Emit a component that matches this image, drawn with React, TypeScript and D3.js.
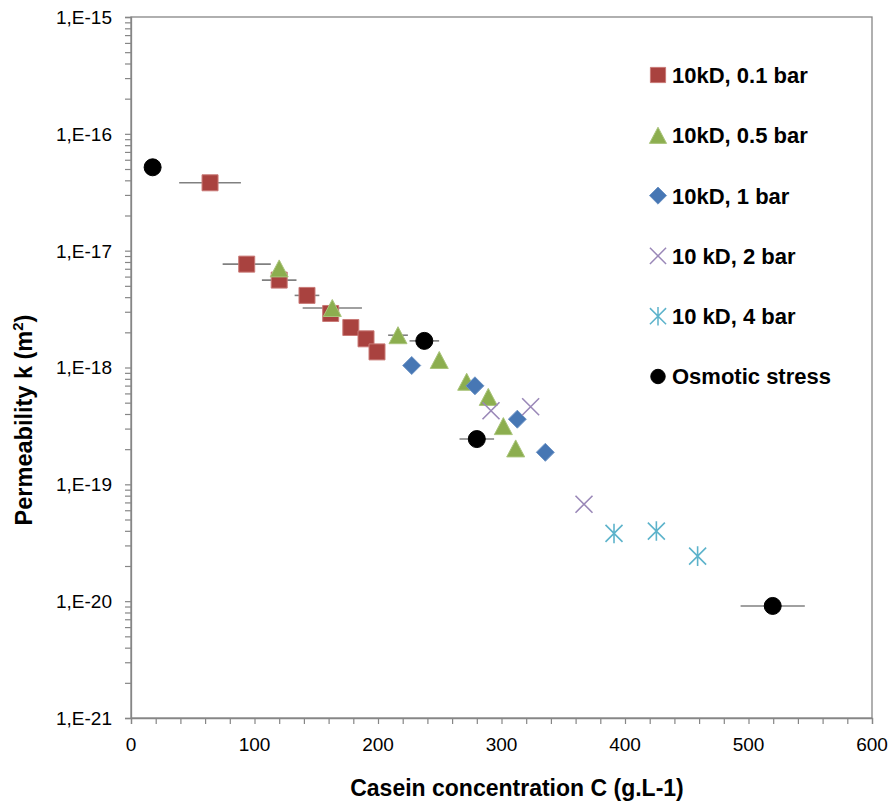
import React, { useEffect, useRef } from 'react';
import * as d3 from 'd3';

// Series data: casein concentration (g/L), permeability (m2), half-width of x error bar
const sq01X = [64, 93.7, 120, 142.5, 161.7, 178, 190.3, 199.2];
const sq01Y = [3.81e-17, 7.67e-18, 5.6e-18, 4.14e-18, 2.9e-18, 2.2e-18, 1.76e-18, 1.36e-18];
const sq01Err = [25, 19.5, 14, 10, 0, 0, 0, 0];

const tri05X = [120, 163, 216.2, 249.6, 271.8, 289.3, 301.5, 311.5];
const tri05Y = [7.05e-18, 3.23e-18, 1.89e-18, 1.16e-18, 7.55e-19, 5.6e-19, 3.15e-19, 2.03e-19];
const tri05Err = [0, 24, 8, 0, 0, 0, 0, 0];

const dia1X = [227.3, 278.5, 312.8, 335.5];
const dia1Y = [1.04e-18, 6.97e-19, 3.61e-19, 1.88e-19];

const x2X = [291.5, 323.6, 366.8];
const x2Y = [4.26e-19, 4.61e-19, 6.76e-20];

const ast4X = [391.1, 425.4, 458.8];
const ast4Y = [3.8e-20, 3.98e-20, 2.43e-20];

const osmX = [17.5, 237.5, 280, 519.6];
const osmY = [5.17e-17, 1.69e-18, 2.44e-19, 9.1e-21];
const osmErr = [0, 12, 14, 26];

const legendLabels = ['10kD, 0.1 bar', '10kD, 0.5 bar', '10kD, 1 bar', '10 kD, 2 bar', '10 kD, 4 bar', 'Osmotic stress'];
const xTicks = [0, 100, 200, 300, 400, 500, 600];
const yDecades = [-21, -20, -19, -18, -17, -16, -15];

type Shape = 'square' | 'triangle' | 'diamond' | 'x' | 'asterisk' | 'circle';

interface Series {
  label: string;
  shape: Shape;
  fill: string;
  stroke: string;
  xs: number[];
  ys: number[];
  errs?: number[];
}

const series: Series[] = [
  { label: legendLabels[0], shape: 'square', fill: '#A9423F', stroke: '#C97A77', xs: sq01X, ys: sq01Y, errs: sq01Err },
  { label: legendLabels[1], shape: 'triangle', fill: '#8CAE4F', stroke: '#A9C47A', xs: tri05X, ys: tri05Y, errs: tri05Err },
  { label: legendLabels[2], shape: 'diamond', fill: '#4777B4', stroke: '#6F95C6', xs: dia1X, ys: dia1Y },
  { label: legendLabels[3], shape: 'x', fill: 'none', stroke: '#9A88B8', xs: x2X, ys: x2Y },
  { label: legendLabels[4], shape: 'asterisk', fill: 'none', stroke: '#5DB3CB', xs: ast4X, ys: ast4Y },
  { label: legendLabels[5], shape: 'circle', fill: '#000000', stroke: '#000000', xs: osmX, ys: osmY, errs: osmErr },
];

function markerPath(shape: Shape, scale = 1): string {
  const p = d3.path();
  switch (shape) {
    case 'square':
      return d3.symbol(d3.symbolSquare, 256 * scale * scale)()!;
    case 'triangle': {
      const w = 18 * scale, h = 17 * scale;
      p.moveTo(0, -h / 2); p.lineTo(w / 2, h / 2); p.lineTo(-w / 2, h / 2); p.closePath();
      return p.toString();
    }
    case 'diamond': {
      const r = 9 * scale;
      p.moveTo(0, -r); p.lineTo(r, 0); p.lineTo(0, r); p.lineTo(-r, 0); p.closePath();
      return p.toString();
    }
    case 'x': {
      const r = 8.5 * scale;
      p.moveTo(-r, -r); p.lineTo(r, r); p.moveTo(-r, r); p.lineTo(r, -r);
      return p.toString();
    }
    case 'asterisk': {
      const r = 8.5 * scale;
      p.moveTo(-r, -r); p.lineTo(r, r); p.moveTo(-r, r); p.lineTo(r, -r);
      p.moveTo(0, -r * 1.15); p.lineTo(0, r * 1.15);
      return p.toString();
    }
    case 'circle':
    default:
      return d3.symbol(d3.symbolCircle, Math.PI * 8.5 * 8.5 * scale * scale)()!;
  }
}

const W = 893;
const H = 803;

export default function App() {
  const svgRef = useRef<SVGSVGElement>(null);

  useEffect(() => {
    if (!svgRef.current) return;
    const svg = d3.select(svgRef.current);
    svg.selectAll('*').remove();

    const left = 131, right = 872, top = 17, bottom = 718;
    const xScale = d3.scaleLinear().domain([0, 600]).range([left, right]);
    const yScale = d3.scaleLog().domain([1e-21, 1e-15]).range([bottom, top]);
    const axisColor = '#868686';

    svg.append('rect').attr('width', W).attr('height', H).attr('fill', '#fff');

    // plot frame
    svg.append('rect')
      .attr('x', left).attr('y', top)
      .attr('width', right - left).attr('height', bottom - top)
      .attr('fill', 'none').attr('stroke', axisColor).attr('stroke-width', 1.3);

    // x axis
    const xAxis = d3.axisBottom(xScale)
      .tickValues(d3.range(0, 601, 20))
      .tickSize(6)
      .tickFormat(() => '');
    svg.append('g')
      .attr('transform', `translate(0,${bottom})`)
      .call(xAxis)
      .call(g => g.select('.domain').attr('stroke', axisColor).attr('stroke-width', 1.3))
      .call(g => g.selectAll('.tick line').attr('stroke', axisColor).attr('stroke-width', 1.2));

    svg.append('g')
      .selectAll('text')
      .data(xTicks)
      .enter()
      .append('text')
      .attr('x', d => xScale(d))
      .attr('y', 751)
      .attr('text-anchor', 'middle')
      .attr('font-family', 'Liberation Sans, Arial, sans-serif')
      .attr('font-size', 19)
      .attr('fill', '#000')
      .text(d => String(d));

    // y axis with log minor ticks
    const yTickVals: number[] = [];
    yDecades.forEach(e => {
      if (e === -15) { yTickVals.push(1e-15); return; }
      for (let m = 1; m <= 9; m++) yTickVals.push(m * Math.pow(10, e));
    });
    const yAxis = d3.axisLeft(yScale)
      .tickValues(yTickVals)
      .tickSize(6)
      .tickFormat(() => '');
    svg.append('g')
      .attr('transform', `translate(${left},0)`)
      .call(yAxis)
      .call(g => g.select('.domain').attr('stroke', axisColor).attr('stroke-width', 1.3))
      .call(g => g.selectAll('.tick line').attr('stroke', axisColor).attr('stroke-width', 1.2));

    svg.append('g')
      .selectAll('text')
      .data(yDecades)
      .enter()
      .append('text')
      .attr('x', 112)
      .attr('y', d => yScale(Math.pow(10, d)))
      .attr('dy', '0.36em')
      .attr('text-anchor', 'end')
      .attr('font-family', 'Liberation Sans, Arial, sans-serif')
      .attr('font-size', 19)
      .attr('fill', '#000')
      .text(d => `1,E${d}`);

    // axis titles
    svg.append('text')
      .attr('x', 517)
      .attr('y', 796)
      .attr('text-anchor', 'middle')
      .attr('font-family', 'Liberation Sans, Arial, sans-serif')
      .attr('font-weight', 'bold')
      .attr('font-size', 23)
      .text('Casein concentration C (g.L-1)');

    const yTitle = svg.append('text')
      .attr('transform', `translate(32,420) rotate(-90)`)
      .attr('text-anchor', 'middle')
      .attr('font-family', 'Liberation Sans, Arial, sans-serif')
      .attr('font-weight', 'bold')
      .attr('font-size', 23.5);
    yTitle.append('tspan').text('Permeability k (m');
    yTitle.append('tspan').attr('font-size', 15).attr('dy', -9).text('2');
    yTitle.append('tspan').attr('dy', 9).text(')');

    // error bars
    const errG = svg.append('g');
    series.forEach(s => {
      if (!s.errs) return;
      s.xs.forEach((x, i) => {
        const e = s.errs![i];
        if (!e) return;
        errG.append('line')
          .attr('x1', xScale(x - e)).attr('x2', xScale(x + e))
          .attr('y1', yScale(s.ys[i])).attr('y2', yScale(s.ys[i]))
          .attr('stroke', '#808080').attr('stroke-width', 1.6);
      });
    });

    // markers
    series.forEach(s => {
      const isLine = s.shape === 'x' || s.shape === 'asterisk';
      svg.append('g')
        .selectAll('path')
        .data(s.xs.map((x, i) => ({ x, y: s.ys[i] })))
        .enter()
        .append('path')
        .attr('transform', d => `translate(${xScale(d.x)},${yScale(d.y)})`)
        .attr('d', markerPath(s.shape))
        .attr('fill', s.fill)
        .attr('stroke', s.stroke)
        .attr('stroke-width', isLine ? 1.6 : 1);
    });

    // legend
    const legend = svg.append('g');
    series.forEach((s, i) => {
      const y = 75 + i * 60.3;
      const isLine = s.shape === 'x' || s.shape === 'asterisk';
      legend.append('path')
        .attr('transform', `translate(658,${y})`)
        .attr('d', markerPath(s.shape, s.shape === 'circle' ? 0.85 : 0.95))
        .attr('fill', s.fill)
        .attr('stroke', s.stroke)
        .attr('stroke-width', isLine ? 1.5 : 1);
      legend.append('text')
        .attr('x', 672)
        .attr('y', y)
        .attr('dy', '0.36em')
        .attr('font-family', 'Liberation Sans, Arial, sans-serif')
        .attr('font-weight', 'bold')
        .attr('font-size', 22)
        .attr('fill', '#000')
        .text(s.label);
    });
  }, []);

  return (
    <div style={{ position: 'absolute', left: 0, top: 0 }}>
      <svg ref={svgRef} width={W} height={H} style={{ display: 'block' }} />
    </div>
  );
}
